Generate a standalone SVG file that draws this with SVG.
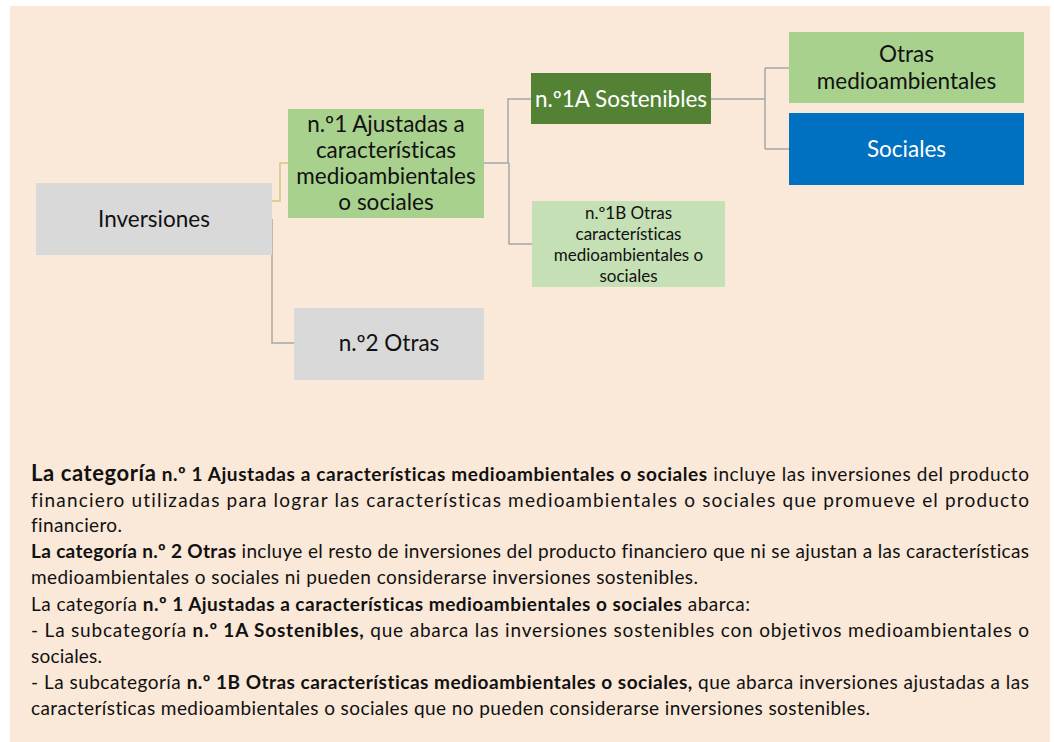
<svg xmlns="http://www.w3.org/2000/svg" width="1054" height="742" viewBox="0 0 1054 742">
<style>
text{font-variant-ligatures:none}
.nt{font-family:Lato,"Liberation Sans",sans-serif;font-size:22.5px;fill:#111;text-anchor:middle}
.w{fill:#fff}
.sm{font-size:17px}
.bt{font-family:Lato,"Liberation Sans",sans-serif;font-size:19px;fill:#111}
.b{font-weight:bold}
.big{font-size:22px}
.cn{fill:none;stroke:#A6A6A6;stroke-width:1.5}
.cy{fill:none;stroke:#D5C585;stroke-width:1.5}
</style>
<rect x="10" y="6" width="1040" height="736" fill="#FAE8D8"/>
<g id="connectors">
<path class="cy" d="M272,201 H280 V163 H288"/>
<path class="cn" d="M272,219 V343 H294"/>
<path class="cn" d="M484,163 H509 M508,163 V99 H531 M509,163 V244 H532"/>
<path class="cn" d="M711,99 H765 M765,68 V149 M765,68 H789 M765,149 H789"/>
</g>
<g id="node-inversiones">
<rect x="36" y="183" width="236" height="72" fill="#D9D9D9"/>
<text class="nt" x="154" y="227">Inversiones</text>
</g>
<g id="node-n1">
<rect x="288" y="109" width="196" height="109" fill="#A9D18E"/>
<text class="nt" x="386" y="132">n.º1 Ajustadas a</text>
<text class="nt" x="386" y="158">características</text>
<text class="nt" x="386" y="184">medioambientales</text>
<text class="nt" x="386" y="210">o sociales</text>
</g>
<g id="node-n2">
<rect x="294" y="308" width="190" height="72" fill="#D9D9D9"/>
<text class="nt" x="389" y="351">n.º2 Otras</text>
</g>
<g id="node-n1a">
<rect x="531" y="73" width="180" height="51" fill="#548235"/>
<text class="nt w" x="621" y="107">n.º1A Sostenibles</text>
</g>
<g id="node-n1b">
<rect x="532" y="201" width="193" height="86" fill="#C5E0B4"/>
<text class="nt sm" x="628.5" y="219">n.º1B Otras</text>
<text class="nt sm" x="628.5" y="240">características</text>
<text class="nt sm" x="628.5" y="261">medioambientales o</text>
<text class="nt sm" x="628.5" y="282">sociales</text>
</g>
<g id="node-otras-medio">
<rect x="789" y="32" width="235" height="71" fill="#A9D18E"/>
<text class="nt" x="906.5" y="62">Otras</text>
<text class="nt" x="906.5" y="89">medioambientales</text>
</g>
<g id="node-sociales">
<rect x="789" y="113" width="235" height="72" fill="#0070C0"/>
<text class="nt w" x="906.5" y="157">Sociales</text>
</g>
<g id="text-block">
<text class="bt" x="31" y="481" textLength="998" lengthAdjust="spacing"><tspan class="b big">La categoría</tspan><tspan class="b"> n.º 1 Ajustadas a características medioambientales o sociales</tspan> incluye las inversiones del producto</text>
<text class="bt" x="31" y="507" textLength="998" lengthAdjust="spacing">financiero utilizadas para lograr las características medioambientales o sociales que promueve el producto</text>
<text class="bt" x="31" y="532" textLength="91" lengthAdjust="spacing">financiero.</text>
<text class="bt" x="31" y="558" textLength="998" lengthAdjust="spacing"><tspan class="b">La categoría n.º 2 Otras</tspan> incluye el resto de inversiones del producto financiero que ni se ajustan a las características</text>
<text class="bt" x="31" y="584" textLength="667" lengthAdjust="spacing">medioambientales o sociales ni pueden considerarse inversiones sostenibles.</text>
<text class="bt" x="31" y="611" textLength="719" lengthAdjust="spacing">La categoría <tspan class="b">n.º 1 Ajustadas a características medioambientales o sociales</tspan> abarca:</text>
<text class="bt" x="31" y="637" textLength="998" lengthAdjust="spacing">- La subcategoría <tspan class="b">n.º 1A Sostenibles,</tspan> que abarca las inversiones sostenibles con objetivos medioambientales o</text>
<text class="bt" x="31" y="663" textLength="71" lengthAdjust="spacing">sociales.</text>
<text class="bt" x="31" y="689" textLength="998" lengthAdjust="spacing">- La subcategoría <tspan class="b">n.º 1B Otras características medioambientales o sociales,</tspan> que abarca inversiones ajustadas a las</text>
<text class="bt" x="31" y="715" textLength="839" lengthAdjust="spacing">características medioambientales o sociales que no pueden considerarse inversiones sostenibles.</text>
</g>
</svg>
